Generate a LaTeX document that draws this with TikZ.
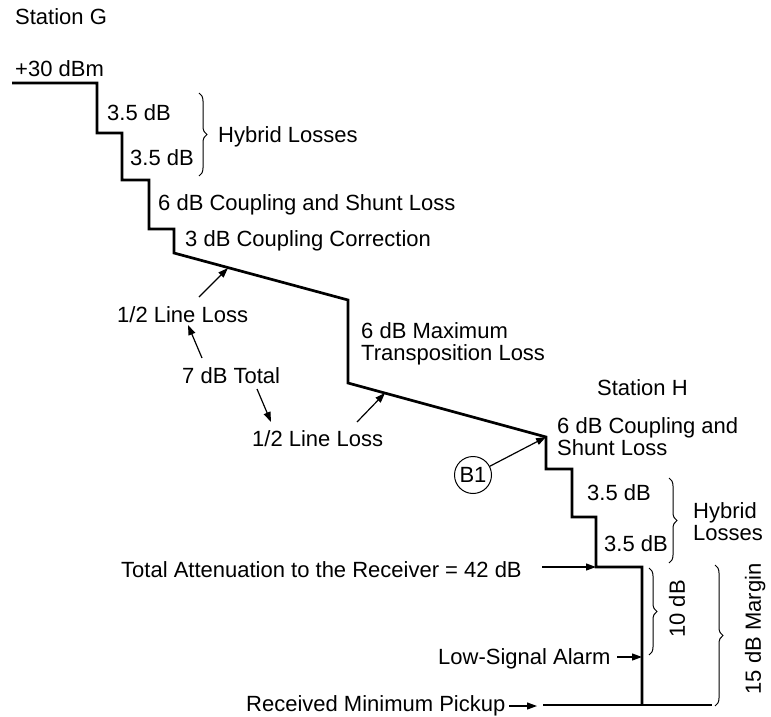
\documentclass[tikz,border=0pt]{standalone}
\usepackage{fontspec}
\setmainfont{Liberation Sans}
\usetikzlibrary{arrows.meta,decorations.pathreplacing}
\begin{document}
\begin{tikzpicture}[x=1pt,y=-1pt,
  lbl/.style={inner sep=0pt, text height=15.8pt, text depth=0pt, anchor=west, font=\fontsize{22}{22}\selectfont},
  rlbl/.style={lbl, anchor=center, rotate=90},
  mlbl/.style={inner sep=0pt, anchor=north west, align=left, font=\fontsize{22}{22}\selectfont},
  level/.style={line width=2.7pt, line join=miter},
  pointer/.style={line width=1.2pt, -{Triangle[length=10pt,width=7pt]}},
  brc/.style={line width=1pt, decorate, decoration={brace, amplitude=8pt}}]
\useasboundingbox (0,0) rectangle (771,717);
% labels
\node[lbl] (stG) at (15,17) {Station G};
\node[lbl] (p30) at (15,69) {+30 dBm};
\node[lbl] (h1) at (107,113) {3.5 dB};
\node[lbl] (h2) at (130,158) {3.5 dB};
\node[lbl] (hyb1) at (218,135) {Hybrid Losses};
\node[lbl] (cs1) at (158,203) {6 dB Coupling and Shunt Loss};
\node[lbl] (cc) at (185,239) {3 dB Coupling Correction};
\node[lbl] (ll1) at (117,315) {1/2 Line Loss};
\node[mlbl] (mt) at (361,322) {6 dB Maximum\\Transposition Loss};
\node[lbl] (tot) at (182,376) {7 dB Total};
\node[lbl] (ll2) at (252,439) {1/2 Line Loss};
\node[lbl] (stH) at (597,388) {Station H};
\node[mlbl] (cs2) at (557,417) {6 dB Coupling and\\Shunt Loss};
\node[circle, draw, line width=1pt, minimum size=37pt, inner sep=0pt, font=\fontsize{22}{22}\selectfont] (bone) at (473,475) {B1};
\node[lbl] (h3) at (587,493) {3.5 dB};
\node[lbl] (h4) at (604,544) {3.5 dB};
\node[mlbl] (hyb2) at (693,502) {Hybrid\\Losses};
\node[lbl] (att) at (121,570) {Total Attenuation to the Receiver = 42 dB};
\node[lbl] (alarm) at (438,657) {Low-Signal Alarm};
\node[lbl] (pick) at (246,704) {Received Minimum Pickup};
\node[rlbl] (d10) at (677,609) {10 dB};
\node[rlbl] (m15) at (753,629) {15 dB Margin};
% level staircase
\coordinate (s0) at (12,83);
\coordinate (s1) at (97,83);
\coordinate (s2) at (97,133);
\coordinate (s3) at (122,133);
\coordinate (s4) at (122,180);
\coordinate (s5) at (149,180);
\coordinate (s6) at (149,229);
\coordinate (s7) at (174,229);
\coordinate (s8) at (174,253);
\coordinate (s9) at (348,300);
\coordinate (s10) at (348,383);
\coordinate (s11) at (546,437);
\coordinate (s12) at (546,469);
\coordinate (s13) at (572,469);
\coordinate (s14) at (572,517);
\coordinate (s15) at (596,517);
\coordinate (s16) at (596,567);
\coordinate (s17) at (642,567);
\coordinate (s18) at (642,705);
\coordinate (m0) at (543,705);
\coordinate (m1) at (712,705);
\draw[level] (s0) -- (s1) -- (s2) -- (s3) -- (s4) -- (s5) -- (s6) -- (s7) -- (s8) -- (s9) -- (s10) -- (s11) -- (s12) -- (s13) -- (s14) -- (s15) -- (s16) -- (s17) -- (s18);
\draw[level] (m0) -- (m1);
% pointer ends
\coordinate (a1s) at (199,297);
\coordinate (a1e) at (228,268);
\coordinate (a2s) at (202,358);
\coordinate (a2e) at (188,325);
\coordinate (a3s) at (257,389);
\coordinate (a3e) at (271,422);
\coordinate (a4s) at (357,422);
\coordinate (a4e) at (385,393);
\coordinate (a5s) at (542,567);
\coordinate (a6s) at (617,657);
\coordinate (a6e) at (642,657);
\coordinate (a7s) at (509,706);
\coordinate (a7e) at (537,706);
\draw[pointer] (a1s) -- (a1e);
\draw[pointer] (a2s) -- (a2e);
\draw[pointer] (a3s) -- (a3e);
\draw[pointer] (a4s) -- (a4e);
\draw[pointer] (bone) -- (s11);
\draw[pointer] (a5s) -- (s16);
\draw[pointer] (a6s) -- (a6e);
\draw[pointer] (a7s) -- (a7e);
% braces
\draw[brc] (199,93) -- (199,176);
\draw[brc] (669,478) -- (669,563);
\draw[brc] (649,568) -- (649,655);
\draw[brc] (715,565) -- (715,706);
\end{tikzpicture}
\end{document}
